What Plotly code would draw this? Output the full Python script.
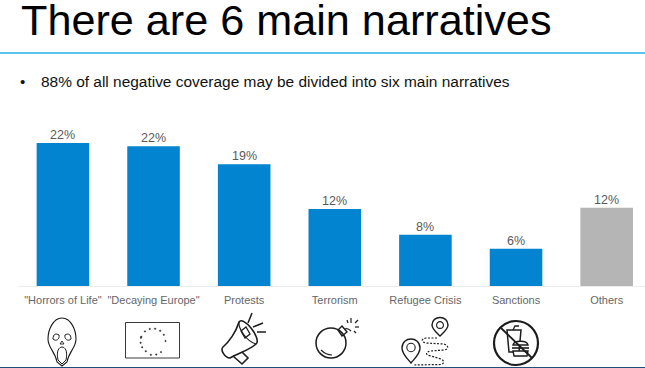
import math
import plotly.graph_objects as go

categories = ['"Horrors of Life"', '"Decaying Europe"', 'Protests', 'Terrorism', 'Refugee Crisis', 'Sanctions', 'Others']
values = [22.3, 21.8, 19.0, 12.0, 8.0, 5.8, 12.2]
value_labels = ['22%', '22%', '19%', '12%', '8%', '6%', '12%']
bar_colors = ['#0284D0'] * 6 + ['#B5B5B5']
title = 'There are 6 main narratives'
bullet = '88% of all negative coverage may be divided into six main narratives'

W, H = 645, 368
ICON = '#1c1c1c'


def line(path, width=1.4, color=ICON, fill='rgba(0,0,0,0)'):
    return dict(type='path', xref='x2', yref='y2', path=path,
                line=dict(color=color, width=width), fillcolor=fill, layer='above')


def circle(cx, cy, r, width=1.4, color=ICON, fill='rgba(0,0,0,0)'):
    return dict(type='circle', xref='x2', yref='y2', x0=cx - r, x1=cx + r, y0=cy - r, y1=cy + r,
                line=dict(color=color, width=width), fillcolor=fill, layer='above')


shapes = [
    dict(type='line', xref='x2', yref='y2', x0=0, x1=645, y0=53, y1=53, line=dict(color='#5CC3E8', width=2)),
    dict(type='line', xref='x2', yref='y2', x0=0, x1=645, y0=367.5, y1=367.5, line=dict(color='#1F4E79', width=1)),
]

# scream mask
shapes += [
    line('M62 318 C71 318 76 330 76 339 C76 348 69 351 67 362 L62 366 L57 362 C55 351 48 348 48 339 C48 330 53 318 62 318 Z', 1.1),
    line('M53 339 C53 334 56 333 59 335 C60 339 56 342 53 339 Z', 1.0),
    line('M71 339 C71 334 68 333 65 335 C64 339 68 342 71 339 Z', 1.0),
    line('M60 344 L62 341 L64 344 Z', 0.9),
    line('M58 360 C56 351 59 347 62 347 C65 347 68 351 66 360 L62 364 Z', 1.0),
]

# EU flag with a broken ring of dots
shapes.append(dict(type='rect', xref='x2', yref='y2', x0=125.5, x1=179.5, y0=322.5, y1=358,
                   line=dict(color='#3a3a3a', width=1), fillcolor='rgba(0,0,0,0)', layer='above'))
for a in [-160, -130, -105, -80, -55, -30, 0, 50, 75, 100, 125, 150, 172, 195]:
    x = 153 + 12.5 * math.cos(math.radians(a))
    y = 341 + 12.5 * math.sin(math.radians(a))
    if a in (50, 75, 100):
        y += 1.5
    shapes.append(circle(x, y, 0.7, 0.5, '#222', '#222'))

# megaphone
shapes += [
    line('M239 322 C236 332 229 342 223 347 C220 350 225 358 230 358 C238 353 248 351 256 344 C259 342 256 334 251 328 C246 322 241 319 239 322 Z', 1.6),
    line('M239 322 C238 328 247 342 256 344', 1.2),
    line('M241 331 L246 327 L250 334 L245 338 Z', 1.3),
    line('M233 356 L242 364 L248 358 L242 352', 1.6),
    line('M248 323 L252 313', 1.5),
    line('M253 327 L263 323', 1.5),
    line('M257 332 L266 332', 1.5),
]

# bomb
shapes += [
    circle(331, 343, 15, 1.5),
    line('M338 330 L342 336 L347 332 L342 326 Z', 1.4),
    line('M345 329 C347 328 349 329 351 331', 1.1),
    line('M321 350 C324 353 328 355 332 355', 1.1),
    line('M347 320 L348 323', 1.2),
    line('M351 318 L351 323', 1.2),
    line('M358 320 L355 323', 1.2),
    line('M359 327 L355 327', 1.2),
    line('M356 333 L354 331', 1.2),
]

# refugee route with two pins and a dashed trail
shapes += [
    line('M440 336 C436 332 432 329 432 325 C432 315 448 315 448 325 C448 329 444 332 440 336 Z', 1.4),
    circle(440, 325, 3.4, 1.1),
    line('M411 363 C407 358 402 354 402 348 C402 336 420 336 420 348 C420 354 415 358 411 363 Z', 1.4),
    circle(411, 347.5, 4.2, 1.1),
    dict(type='path', xref='x2', yref='y2', layer='above', fillcolor='rgba(0,0,0,0)',
         path='M437 338 L426 338 C421 339 421 342 426 343 L444 344 C449 346 449 349 444 350 L431 351 C425 352 425 355 431 356 L441 359 C445 361 444 364 441 364.5 L413 365',
         line=dict(color=ICON, width=1.2, dash='2px,1.5px')),
]

# sanctions sign over a cup and a burger
shapes += [
    line('M507 330 L521 330 L519 352 L509 352 Z', 1.5),
    line('M513 330 L515 326 L519 326', 1.3),
    line('M513 345 C514 340 527 340 528 345 Z', 1.4, ICON, '#ffffff'),
    line('M512 348 L529 348', 1.6),
    line('M513 351 L528 351 L527 356 L514 356 Z', 1.4, ICON, '#ffffff'),
    line('M501 328 L532 358', 1.8),
    circle(516, 343, 22, 2.2),
]

fig = go.Figure()
fig.add_trace(go.Bar(
    x=categories, y=values, marker=dict(color=bar_colors, line_width=0), width=0.58,
    cliponaxis=False, hoverinfo='skip', showlegend=False,
))
# invisible helper trace keeps the pixel overlay axes alive
fig.add_trace(go.Scatter(x=[0], y=[0], xaxis='x2', yaxis='y2', mode='markers', marker_opacity=0,
                         hoverinfo='skip', showlegend=False))

value_annotations = [
    dict(xref='x', yref='y', x=c, y=v, text=t, showarrow=False, xanchor='center', yanchor='bottom', yshift=-1,
         font=dict(family='Liberation Sans', size=12.5, color='#595959'))
    for c, v, t in zip(categories, values, value_labels)
]

fig.update_layout(
    width=W, height=H, autosize=False, margin=dict(l=0, r=0, t=0, b=0),
    paper_bgcolor='white', plot_bgcolor='rgba(0,0,0,0)', bargap=0.42,
    xaxis=dict(domain=[17.6 / W, 1], range=[-0.5, 6.423], type='category', showgrid=False, zeroline=False,
               showline=True, linecolor='#EDEDED', linewidth=1, ticks='outside', ticklen=4, tickcolor='rgba(0,0,0,0)',
               tickfont=dict(family='Liberation Sans', size=11, color='#666666'), tickangle=0, automargin=False),
    yaxis=dict(domain=[(H - 286) / H, (H - 100) / H], range=[0, 186 / 6.41], visible=False, zeroline=False),
    xaxis2=dict(domain=[0, 1], range=[0, W], visible=False, anchor='y2'),
    yaxis2=dict(domain=[0, 1], range=[H, 0], visible=False, anchor='x2'),
    shapes=shapes,
    annotations=value_annotations + [
        dict(xref='x2', yref='y2', x=19, y=19.5, text=title, showarrow=False, xanchor='left', yanchor='middle',
             font=dict(family='Liberation Sans', size=43.2, color='#000000')),
        dict(xref='x2', yref='y2', x=18, y=81, text='•', showarrow=False, xanchor='left', yanchor='middle',
             font=dict(family='Liberation Sans', size=15, color='#111111')),
        dict(xref='x2', yref='y2', x=39, y=81, text=bullet, showarrow=False, xanchor='left', yanchor='middle',
             font=dict(family='Liberation Sans', size=15.45, color='#111111')),
    ],
)

fig.write_html('out.html', config=dict(displayModeBar=False),
               post_script="document.body.style.margin='0';document.body.style.overflow='hidden';")
